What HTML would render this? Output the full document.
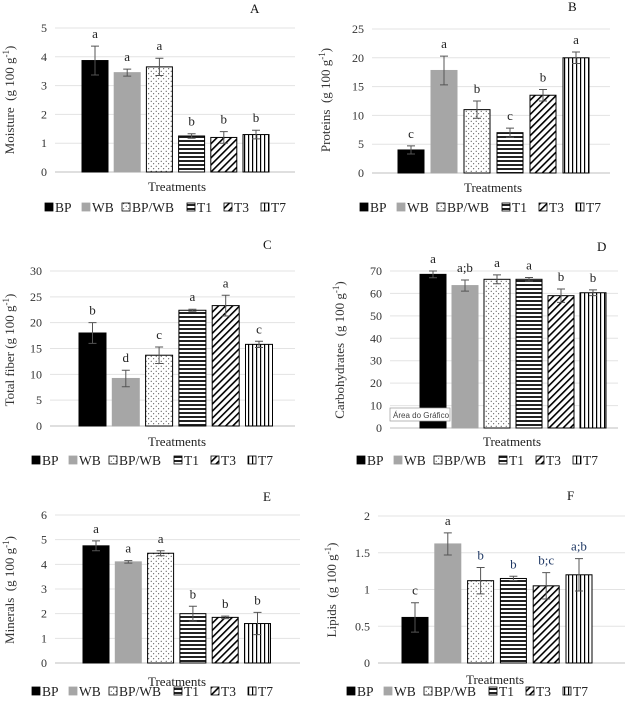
<!DOCTYPE html>
<html><head><meta charset="utf-8"><style>
html,body{margin:0;padding:0;background:#fff}
svg{display:block;font-family:"Liberation Serif",serif}
</style></head><body>
<svg id="c" width="632" height="720" viewBox="0 0 632 720">
<defs>
<pattern id="pDots" width="5" height="5" patternUnits="userSpaceOnUse"><rect width="5" height="5" fill="#fff"/><circle cx="1.2" cy="1.2" r="0.5" fill="#000"/><circle cx="3.7" cy="3.7" r="0.5" fill="#000"/></pattern>
<pattern id="pH" width="4" height="4" patternUnits="userSpaceOnUse"><rect width="4" height="4" fill="#fff"/><rect width="4" height="2" fill="#222"/></pattern>
<pattern id="pD" width="5" height="5" patternUnits="userSpaceOnUse" patternTransform="rotate(45)"><rect width="5" height="5" fill="#fff"/><rect width="1.6" height="5" fill="#000"/></pattern>
<pattern id="pV" width="4" height="4" patternUnits="userSpaceOnUse"><rect width="4" height="4" fill="#fff"/><rect width="1.2" height="4" fill="#000"/></pattern>
</defs>
</svg>
<script>
const categories=["BP","WB","BP/WB","T1","T3","T7"];
const moisture=[3.87,3.45,3.65,1.25,1.2,1.3];
const moistureErr=[0.5,0.12,0.3,0.08,0.2,0.15];
const moistureLetters=["a","a","a","b","b","b"];
const proteins=[4,17.8,11,7,13.5,20];
const proteinsErr=[0.7,2.5,1.5,0.8,1,1];
const proteinsLetters=["c","a","b","c","b","a"];
const fiber=[18,9.2,13.7,22.4,23.3,15.8];
const fiberErr=[2,1.6,1.6,0.2,2,0.6];
const fiberLetters=["b","d","c","a","a","c"];
const carbs=[68.5,63.5,66.3,66.3,59,60.3];
const carbsErr=[1.5,2.5,2,0.8,3,1.3];
const carbsLetters=["a","a;b","a","a","b","b"];
const minerals=[4.75,4.1,4.45,2,1.85,1.6];
const mineralsErr=[0.2,0.05,0.1,0.3,0.05,0.45];
const mineralsLetters=["a","a","a","b","b","b"];
const lipids=[0.62,1.62,1.12,1.15,1.05,1.2];
const lipidsErr=[0.2,0.15,0.18,0.03,0.18,0.22];
const lipidsLetters=["c","a","b","b","b;c","a;b"];
const ticksA=["0","1","2","3","4","5"];
const ticksB=["0","5","10","15","20","25"];
const ticksC=["0","5","10","15","20","25","30"];
const ticksD=["0","10","20","30","40","50","60","70"];
const ticksE=["0","1","2","3","4","5","6"];
const ticksF=["0","0.5","1","1.5","2"];

const fills=["#000","#a6a6a6","url(#pDots)","url(#pH)","url(#pD)","url(#pV)"];
const NS="http://www.w3.org/2000/svg";
const svg=document.getElementById('c');
function mk(t,a,p){const e=document.createElementNS(NS,t);for(const k in a)e.setAttribute(k,a[k]);(p||svg).appendChild(e);return e;}

const panels=[
 {id:"A",vals:moisture,err:moistureErr,let:moistureLetters,ticks:ticksA,max:5,y0:172,yT:28,gx0:55,gx1:295,bx:82,pitch:32.2,bw:26,title:"Moisture\u00a0\u00a0(g 100 g",tx:14,tcy:100,lx:250,ly:13,trX:177,trY:191,legX:45,legY:208},
 {id:"B",vals:proteins,err:proteinsErr,let:proteinsLetters,ticks:ticksB,max:25,y0:173,yT:29,gx0:372,gx1:610,bx:398,pitch:33,bw:26,title:"Proteins\u00a0\u00a0(g 100 g",tx:330,tcy:100,lx:568,ly:11,trX:493,trY:192,legX:360,legY:208},
 {id:"C",vals:fiber,err:fiberErr,let:fiberLetters,ticks:ticksC,max:30,y0:426,yT:271,gx0:50,gx1:295,bx:79,pitch:33.3,bw:27,title:"Total fiber (g 100 g",tx:14,tcy:350,lx:263,ly:249,trX:177,trY:446,legX:32,legY:461},
 {id:"D",vals:carbs,err:carbsErr,let:carbsLetters,ticks:ticksD,max:70,y0:428,yT:271,gx0:390,gx1:618,bx:420,pitch:32,bw:26,title:"Carbohydrates\u00a0\u00a0(g 100 g",tx:344,tcy:350,lx:597,ly:251,trX:512,trY:446,legX:357,legY:461},
 {id:"E",vals:minerals,err:mineralsErr,let:mineralsLetters,ticks:ticksE,max:6,y0:663,yT:515,gx0:55,gx1:300,bx:83,pitch:32.3,bw:26,title:"Minerals\u00a0\u00a0(g 100 g",tx:14,tcy:590,lx:263,ly:501,trX:177,trY:686,legX:32,legY:692},
 {id:"F",vals:lipids,err:lipidsErr,let:lipidsLetters,ticks:ticksF,max:2,y0:663,yT:516,gx0:378,gx1:625,bx:402,pitch:32.8,bw:26,title:"Lipids\u00a0\u00a0(g 100 g",tx:336,tcy:590,lx:567,ly:500,trX:495,trY:684,legX:347,legY:692}
];

panels.forEach(P=>{
 const g=mk('g',{});
 
 
 const ys=v=>P.y0-(v/P.max)*(P.y0-P.yT);
 const n=P.ticks.length;
 P.ticks.forEach((t,i)=>{
  const v=P.max*i/(n-1), y=ys(v);
  const gl=mk('line',{x1:P.gx0,x2:P.gx1,y1:y,y2:y,stroke:i==0?'#bfbfbf':'#e3e3e3','stroke-width':1},g);
  
  
  const tl=mk('text',{x:P.gx0-8,y:y+4,'text-anchor':'end','font-size':12,fill:'#333'},g);
  tl.textContent=t;
  
  
 });
 P.vals.forEach((v,i)=>{
  const x=P.bx+i*P.pitch, y=ys(v);
  const r=mk('rect',{x:x,y:y,width:P.bw,height:P.y0-y,fill:fills[i],stroke:i==1?'#a6a6a6':'#000','stroke-width':1},g);
  
  
  const cx=x+P.bw/2, e1=ys(v+P.err[i]), e2=ys(v-P.err[i]);
  const eb=mk('path',{d:`M${cx},${e1}V${e2}M${cx-4},${e1}H${cx+4}M${cx-4},${e2}H${cx+4}`,stroke:'#555','stroke-width':1,fill:'none'},g);
  
  
  const lt=mk('text',{x:cx,y:e1-8,'text-anchor':'middle','font-size':13,fill:(P.id=="F"&&i>1)?'#1f3864':'#222'},g);
  lt.textContent=P.let[i];
  
  
 });
 const yt=mk('text',{x:0,y:0,'text-anchor':'middle','font-size':13,fill:'#333',transform:`translate(${P.tx},${P.tcy}) rotate(-90)`},g);
 yt.innerHTML=P.title+'<tspan dy="-5" font-size="9">-1</tspan><tspan dy="5">)</tspan>';
 
 
 const pl=mk('text',{x:P.lx,y:P.ly,'font-size':13,fill:'#111'},g);
 pl.textContent=P.id;
 
 
 const xt=mk('text',{x:P.trX,y:P.trY,'text-anchor':'middle','font-size':13,fill:'#222'},g);
 xt.textContent="Treatments";
 
 
 const offs=[0,37,77,142,179,216];
 categories.forEach((c,i)=>{
  const lx=P.legX+offs[i];
  const sw=mk('rect',{x:lx,y:P.legY-5,width:8,height:8,fill:fills[i],stroke:i==1?'#a6a6a6':'#000','stroke-width':0.8},g);
  
  
  const lt=mk('text',{x:lx+10,y:P.legY+4,'font-size':13.5,fill:'#222'},g);
  lt.textContent=c;
  
  
 });
});
const tip=mk('g',{});


mk('rect',{x:390,y:408,width:60,height:13,fill:'#fff',stroke:'#999','stroke-width':0.7},tip);
const tt=mk('text',{x:393,y:418,'font-size':8,fill:'#444','font-family':'Liberation Sans, sans-serif'},tip);
tt.textContent="Área do Gráfico";
</script>
</body></html>
